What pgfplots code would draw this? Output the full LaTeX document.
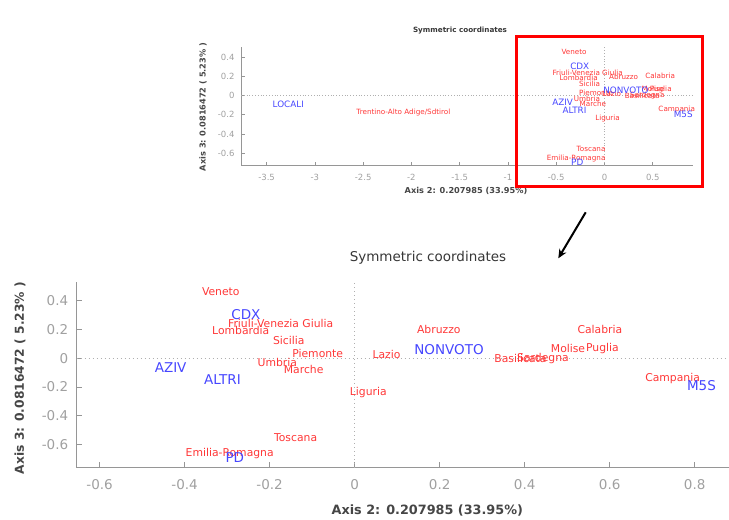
\documentclass[border=0pt]{standalone}
\usepackage{pgfplots}
\pgfplotsset{compat=1.18}
\usepackage{pgfplotstable}
\usepackage{fontspec}
\setmainfont{DejaVu Sans}
\usetikzlibrary{arrows.meta}
\definecolor{labred}{RGB}{255,55,55}
\definecolor{labblue}{RGB}{70,70,255}
\definecolor{tickgray}{RGB}{160,160,160}
\definecolor{axisgray}{RGB}{150,150,150}
\definecolor{zerogray}{RGB}{175,175,175}
\definecolor{labdark}{RGB}{70,70,70}
\definecolor{titledark}{RGB}{55,55,55}

\pgfplotstableread[col sep=comma]{
x,y,label
-0.315,0.46,Veneto
-0.174,0.238,Friuli-Venezia Giulia
-0.268,0.19,Lombardia
-0.155,0.12,Sicilia
-0.087,0.03,Piemonte
-0.182,-0.03,Umbria
-0.12,-0.08,Marche
0.032,-0.236,Liguria
0.075,0.023,Lazio
-0.139,-0.55,Toscana
-0.294,-0.66,Emilia-Romagna
0.198,0.197,Abruzzo
0.39,0.0,Basilicata
0.443,0.0,Sardegna
0.502,0.07,Molise
0.583,0.065,Puglia
0.577,0.203,Calabria
0.748,-0.144,Campania
}\regions

\pgfplotstableread[col sep=comma]{
x,y,label
-2.083,-0.173,Trentino-Alto Adige/Sdtirol
}\regionsfar

\pgfplotstableread[col sep=comma]{
x,y,label
-0.256,0.305,CDX
-0.433,-0.065,AZIV
-0.311,-0.15,ALTRI
-0.282,-0.69,PD
0.222,0.058,NONVOTO
0.816,-0.19,M5S
}\parties

\pgfplotstableread[col sep=comma]{
x,y,label
-3.275,-0.086,LOCALI
}\partiesfar

\pgfplotsset{
  ca/.style={
    scale only axis, anchor=south west, clip=false,
    axis x line=bottom, axis y line=left,
    axis line style={-, draw=axisgray, line width=1.1bp},
    tick align=inside,
    tick style={draw=axisgray, line width=0.9bp},
    ticklabel style={text=tickgray},
    /pgf/number format/assume math mode=true,
    ytick={-0.6,-0.4,-0.2,0,0.2,0.4},
  },
  lab/.style n args={2}{only marks, mark=*, mark size=0pt, mark options={draw=none, fill=none},
    nodes near coords, point meta=explicit symbolic, nodes near coords align=center,
    every node near coord/.append style={anchor=center, inner sep=0pt, text=#1, font=#2}},
}

\begin{document}
\begin{tikzpicture}
\useasboundingbox (0,0) rectangle (729bp,-520bp);

% ---------- small overview plot ----------
\begin{axis}[ca,
  at={(241bp,-165.7bp)}, width=452.3bp, height=119bp,
  xmin=-3.765, xmax=0.92, ymin=-0.73, ymax=0.51,
  xtick={-3.5,-3,-2.5,-2,-1.5,-1,-0.5,0,0.5},
  major tick length=3.5bp,
  ticklabel style={font=\fontsize{8.5bp}{10bp}\selectfont},
  xticklabel style={yshift=-5bp}, yticklabel style={xshift=-3bp},
  axis line style={line width=0.8bp}, tick style={line width=0.7bp},
]
\addplot[forget plot, draw=zerogray, line width=0.6bp, dash pattern=on 0.8bp off 2bp] coordinates {(-3.765,0) (0.92,0)};
\addplot[forget plot, draw=zerogray, line width=0.6bp, dash pattern=on 0.8bp off 2bp] coordinates {(0,-0.73) (0,0.51)};
\addplot[lab={labred}{\fontsize{7.2bp}{8bp}\selectfont}] table[x=x,y=y,meta=label] {\regions};
\addplot[lab={labred}{\fontsize{7.2bp}{8bp}\selectfont}] table[x=x,y=y,meta=label] {\regionsfar};
\addplot[lab={labblue}{\fontsize{8.8bp}{10bp}\selectfont}] table[x=x,y=y,meta=label] {\parties};
\addplot[lab={labblue}{\fontsize{8.8bp}{10bp}\selectfont}] table[x=x,y=y,meta=label] {\partiesfar};
\end{axis}

\node[font=\bfseries\fontsize{7.2bp}{9bp}\selectfont, text=titledark] at (460bp,-31bp) {Symmetric coordinates};
\node[font=\bfseries\fontsize{8.2bp}{10bp}\selectfont, text=labdark] at (466bp,-191bp) {Axis 2: 0.207985 (33.95\%)};
\node[font=\bfseries\fontsize{8.2bp}{10bp}\selectfont, text=labdark, rotate=90] at (203bp,-107bp) {Axis 3: 0.0816472 ( 5.23\% )};

\draw[red, line width=3.5bp] (516.7bp,-36.7bp) rectangle (702.3bp,-186.7bp);
\draw[black, line width=2bp, -{Stealth[length=9bp,width=8bp]}] (585.7bp,-212.3bp) -- (558.3bp,-258.3bp);

% ---------- zoomed plot ----------
\begin{axis}[ca,
  at={(76.7bp,-467.7bp)}, width=652bp, height=185.8bp,
  xmin=-0.654, xmax=0.88, ymin=-0.76, ymax=0.53,
  xtick={-0.6,-0.4,-0.2,0,0.2,0.4,0.6,0.8},
  major tick length=5.5bp,
  ticklabel style={font=\fontsize{13.5bp}{15bp}\selectfont},
  xticklabel style={yshift=-8bp}, yticklabel style={xshift=-5bp},
]
\addplot[forget plot, draw=zerogray, line width=0.8bp, dash pattern=on 1bp off 3bp] coordinates {(-0.654,0) (0.88,0)};
\addplot[forget plot, draw=zerogray, line width=0.8bp, dash pattern=on 1bp off 3bp] coordinates {(0,-0.76) (0,0.53)};
\addplot[lab={labred}{\fontsize{10.8bp}{12bp}\selectfont}] table[x=x,y=y,meta=label] {\regions};
\addplot[lab={labblue}{\fontsize{13.5bp}{15bp}\selectfont}] table[x=x,y=y,meta=label] {\parties};
\end{axis}

\node[font=\fontsize{13.5bp}{15bp}\selectfont, text=titledark] at (428bp,-258bp) {Symmetric coordinates};
\node[font=\bfseries\fontsize{12.8bp}{15bp}\selectfont, text=labdark] at (427.3bp,-510bp) {Axis 2: 0.207985 (33.95\%)};
\node[font=\bfseries\fontsize{12.3bp}{15bp}\selectfont, text=labdark, rotate=90] at (20bp,-378bp) {Axis 3: 0.0816472 ( 5.23\% )};
\end{tikzpicture}
\end{document}
